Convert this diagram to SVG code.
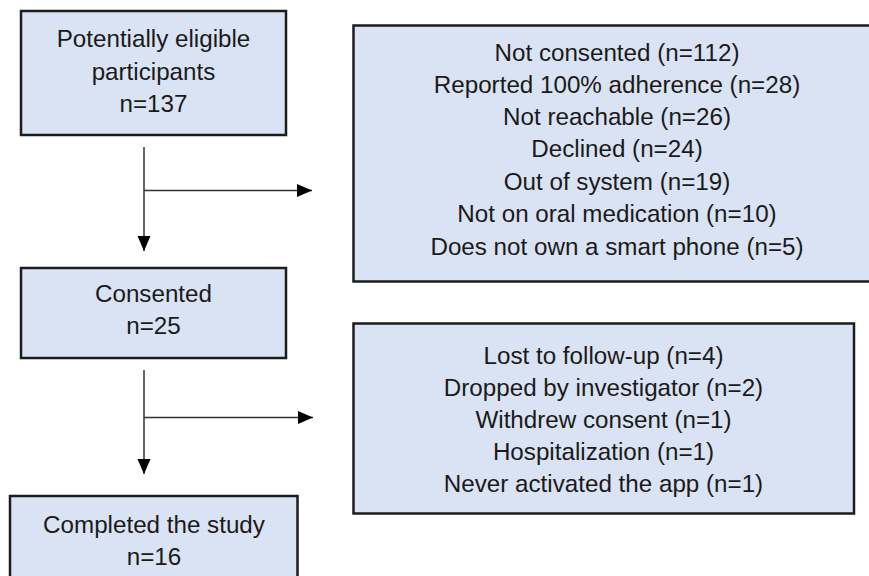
<svg xmlns="http://www.w3.org/2000/svg" width="869" height="576" viewBox="0 0 869 576">
  <style>
    .box { fill: #dae3f3; stroke: #1c1c1c; stroke-width: 2.5; }
    .t { font-family: "Liberation Sans", Arial, sans-serif; font-size: 24.2px; fill: #1a1a1a; text-anchor: middle; }
    .conn { stroke: #333; stroke-width: 1.5; fill: none; }
  </style>
  <defs>
    <marker id="arrow" markerUnits="userSpaceOnUse" markerWidth="16" markerHeight="14" refX="15" refY="7" orient="auto">
      <path d="M0,0.5 L15,7 L0,13.5 z" fill="#000"/>
    </marker>
  </defs>
  <rect width="869" height="576" fill="#fff"/>

  <g id="connectors">
    <line class="conn" x1="144" y1="147" x2="144" y2="251" marker-end="url(#arrow)"/>
    <line class="conn" x1="144" y1="190.5" x2="312" y2="190.5" marker-end="url(#arrow)"/>
    <line class="conn" x1="144" y1="370" x2="144" y2="474" marker-end="url(#arrow)"/>
    <line class="conn" x1="144" y1="417.5" x2="313" y2="417.5" marker-end="url(#arrow)"/>
  </g>

  <g id="eligible">
    <rect class="box" x="21" y="11" width="265" height="124"/>
    <text class="t" x="153.5" y="47">Potentially eligible</text>
    <text class="t" x="153.5" y="79.5">participants</text>
    <text class="t" x="153.5" y="112">n=137</text>
  </g>

  <g id="not-consented">
    <rect class="box" x="353.5" y="25.5" width="527" height="256"/>
    <text class="t" x="617" y="60.5">Not consented (n=112)</text>
    <text class="t" x="617" y="92.5">Reported 100% adherence (n=28)</text>
    <text class="t" x="617" y="125">Not reachable (n=26)</text>
    <text class="t" x="617" y="157">Declined (n=24)</text>
    <text class="t" x="617" y="189.5">Out of system (n=19)</text>
    <text class="t" x="617" y="222">Not on oral medication (n=10)</text>
    <text class="t" x="617" y="254.5">Does not own a smart phone (n=5)</text>
  </g>

  <g id="consented">
    <rect class="box" x="21" y="268" width="265" height="90"/>
    <text class="t" x="153.5" y="302">Consented</text>
    <text class="t" x="153.5" y="334">n=25</text>
  </g>

  <g id="dropped">
    <rect class="box" x="353.5" y="323.5" width="500.5" height="190"/>
    <text class="t" x="603.5" y="364">Lost to follow-up (n=4)</text>
    <text class="t" x="603.5" y="396">Dropped by investigator (n=2)</text>
    <text class="t" x="603.5" y="428">Withdrew consent (n=1)</text>
    <text class="t" x="603.5" y="460">Hospitalization (n=1)</text>
    <text class="t" x="603.5" y="492">Never activated the app (n=1)</text>
  </g>

  <g id="completed">
    <rect class="box" x="10" y="496" width="287.5" height="90"/>
    <text class="t" x="154" y="532.5">Completed the study</text>
    <text class="t" x="154" y="564.5">n=16</text>
  </g>
</svg>
